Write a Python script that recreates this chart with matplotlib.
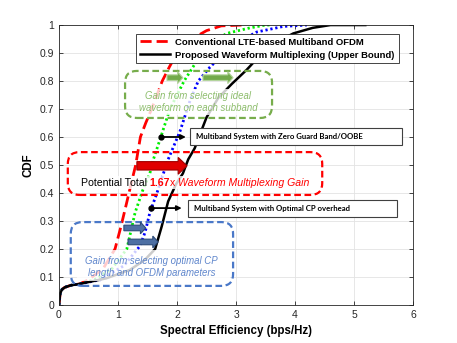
import matplotlib
matplotlib.use("Agg")

import matplotlib.pyplot as plt
import matplotlib.transforms as mtransforms
from matplotlib.patches import FancyBboxPatch, FancyArrow, Rectangle

plt.rcParams["font.family"] = ["Liberation Sans", "DejaVu Sans"]

# CDF curves (spectral efficiency, CDF)
conv_x = [0, 0.01, 0.02, 0.05, 0.1, 0.2, 0.35, 0.5, 0.75, 0.95, 1.05, 1.13, 1.22, 1.3, 1.38,
          1.47, 1.57, 1.66, 1.75, 1.87, 2.0, 2.25, 2.5, 2.75, 3.1]
conv_y = [0, 0.02, 0.04, 0.055, 0.063, 0.07, 0.075, 0.09, 0.13, 0.2, 0.28, 0.35, 0.43, 0.5, 0.6,
          0.65, 0.7, 0.75, 0.8, 0.85, 0.9, 0.95, 0.98, 0.997, 1.0]

ideal_x = [0, 0.01, 0.02, 0.05, 0.1, 0.2, 0.35, 0.6, 0.9, 1.15, 1.29, 1.42, 1.54, 1.6, 1.71,
           1.88, 2.12, 2.33, 2.55, 2.84, 3.24, 3.5, 3.6]
ideal_y = [0, 0.02, 0.04, 0.055, 0.063, 0.07, 0.075, 0.09, 0.13, 0.2, 0.33, 0.41, 0.47, 0.52, 0.59,
           0.7, 0.8, 0.87, 0.93, 0.97, 0.99, 1.0, 1.0]

cp_x = [0, 0.01, 0.02, 0.05, 0.1, 0.2, 0.35, 0.7, 1.1, 1.37, 1.46, 1.54, 1.66, 1.77, 1.85, 2.05,
        2.22, 2.36, 2.56, 2.95, 3.35, 3.8, 4.2]
cp_y = [0, 0.02, 0.04, 0.055, 0.063, 0.07, 0.075, 0.09, 0.14, 0.21, 0.26, 0.33, 0.4, 0.47, 0.52, 0.62,
        0.73, 0.8, 0.85, 0.93, 0.975, 0.995, 1.0]

prop_x = [0, 0.01, 0.02, 0.05, 0.1, 0.2, 0.35, 0.8, 1.2, 1.45, 1.63, 1.74, 1.85, 1.98, 2.1, 2.19,
          2.3, 2.39, 2.5, 2.7, 2.93, 3.18, 3.4, 3.7, 3.97, 4.3, 4.6, 5.19]
prop_y = [0, 0.02, 0.04, 0.055, 0.063, 0.07, 0.075, 0.095, 0.125, 0.16, 0.2, 0.28, 0.37, 0.43, 0.47,
          0.52, 0.56, 0.61, 0.67, 0.74, 0.79, 0.84, 0.89, 0.94, 0.97, 0.99, 1.0, 1.0]

legend_labels = ["Conventional LTE-based Multiband OFDM",
                 "Proposed Waveform Multiplexing (Upper Bound)"]
x_ticks = [0, 1, 2, 3, 4, 5, 6]
y_ticks = [0, 0.1, 0.2, 0.3, 0.4, 0.5, 0.6, 0.7, 0.8, 0.9, 1]

GREEN = "#77ad4c"
GREEN_TXT = "#8dbd6c"
BLUE = "#4a78c8"
BLUE_TXT = "#5f86cc"
ASPECT = 59.0 / 280.0   # px per x-unit / px per y-unit

fig = plt.figure(figsize=(4.57, 3.43), dpi=100)
ax = fig.add_axes([0.129, 0.111, 0.775, 0.816])

l_conv, = ax.plot(conv_x, conv_y, color="#ff0000", lw=2, dashes=(4, 1.8), zorder=2)
ax.plot(ideal_x, ideal_y, color="#00ee00", lw=2, ls=(0, (0.8, 1.0)), zorder=2)
ax.plot(cp_x, cp_y, color="#0000ff", lw=2, ls=(0, (0.8, 1.0)), zorder=2)
l_prop, = ax.plot(prop_x, prop_y, color="black", lw=1.8, zorder=2.1)

ax.set_xlim(0, 6)
ax.set_ylim(0, 1)
ax.set_xticks(x_ticks)
ax.set_yticks(y_ticks)
ax.set_yticklabels(["0" if v == 0 else ("1" if v == 1 else f"{v:.1f}") for v in y_ticks])
ax.grid(True, color="#e3e3e3", lw=0.6)
ax.set_axisbelow(True)
ax.tick_params(direction="in", length=3, width=0.6, labelsize=7.5, colors="#262626",
               top=True, right=True)
for s in ax.spines.values():
    s.set_color("#262626")
    s.set_linewidth(0.6)
ax.set_xlabel("Spectral Efficiency (bps/Hz)", fontsize=8.3, fontweight="bold", labelpad=4)
ax.set_ylabel("CDF", fontsize=8.3, fontweight="bold", labelpad=4)

# white veils behind the annotation text
for (x0, y0, w, h) in [(1.35, 0.68, 2.05, 0.09), (0.3, 0.085, 2.6, 0.11), (0.35, 0.415, 4.0, 0.045)]:
    ax.add_patch(Rectangle((x0, y0), w, h, facecolor="white", edgecolor="none",
                           alpha=0.8, zorder=3))


def dashed_box(x0, y0, x1, y1, color):
    p = FancyBboxPatch((x0, y0), x1 - x0, y1 - y0,
                       boxstyle="round,pad=0,rounding_size=0.2",
                       mutation_aspect=ASPECT, facecolor="none", edgecolor=color,
                       lw=1.6, ls=(0, (3, 1.6)), zorder=4)
    ax.add_patch(p)


dashed_box(1.12, 0.668, 3.61, 0.836, GREEN)
dashed_box(0.15, 0.393, 4.46, 0.546, "#ff0000")
dashed_box(0.2, 0.068, 2.95, 0.296, BLUE)


def block_arrow(x0, x1, y, body, head, head_len, fc, ec):
    ax.add_patch(FancyArrow(x0, y, x1 - x0, 0, width=body, head_width=head,
                            head_length=head_len, length_includes_head=True,
                            facecolor=fc, edgecolor=ec, lw=0.8, zorder=5))


block_arrow(1.83, 2.1, 0.812, 0.02, 0.042, 0.09, "#72aa4a", "#b3d49c")
block_arrow(2.44, 2.95, 0.812, 0.02, 0.042, 0.09, "#72aa4a", "#b3d49c")
block_arrow(1.32, 2.17, 0.497, 0.03, 0.06, 0.15, "#e00000", "#a00000")
block_arrow(1.1, 1.47, 0.275, 0.02, 0.042, 0.09, "#4d6fa3", "#2c4a78")
block_arrow(1.17, 1.68, 0.225, 0.02, 0.042, 0.09, "#4d6fa3", "#2c4a78")


def dot_arrow(x0, x1, y):
    ax.annotate("", xy=(x1, y), xytext=(x0, y),
                arrowprops=dict(arrowstyle="-|>", color="black", lw=1.3,
                                mutation_scale=7, shrinkA=0, shrinkB=0), zorder=5)
    ax.plot([x0], [y], "o", color="black", ms=3.5, zorder=5)


dot_arrow(1.73, 2.15, 0.60)
dot_arrow(1.56, 2.08, 0.346)


def label_box(x0, y0, x1, y1, text):
    ax.add_patch(Rectangle((x0, y0), x1 - x0, y1 - y0, facecolor="white",
                           edgecolor="#404040", lw=0.8, zorder=5))
    ax.text(x0 + 0.1, (y0 + y1) / 2, text, fontsize=5.6, fontweight="bold",
            family=["Lato", "DejaVu Sans"], va="center", ha="left", zorder=6)


label_box(2.22, 0.571, 5.81, 0.632, "Multiband System with Zero Guard Band/OOBE")
label_box(2.19, 0.314, 5.73, 0.375, "Multiband System with Optimal CP overhead")

ax.text(2.36, 0.725, "Gain from selecting ideal\nwaveform on each subband", color=GREEN_TXT,
        fontsize=6.9, style="italic", ha="center", va="center", linespacing=1.25, zorder=6)
ax.text(1.57, 0.135, "Gain from selecting optimal CP\nlength and OFDM parameters", color=BLUE_TXT,
        fontsize=6.9, style="italic", ha="center", va="center", linespacing=1.25, zorder=6)

# multi-coloured gain sentence
renderer = fig.canvas.get_renderer()
pieces = [("Potential Total ", dict(color="black")),
          ("1.67", dict(color="#ff0000", fontweight="bold")),
          ("x ", dict(color="#ff0000")),
          ("Waveform Multiplexing Gain", dict(color="#ff0000", style="italic"))]
trans = ax.transData
for s, props in pieces:
    t = ax.text(0.37, 0.436, s, transform=trans, fontsize=7.6, va="center", ha="left",
                zorder=6, **props)
    ext = t.get_window_extent(renderer)
    trans = mtransforms.offset_copy(t.get_transform(), fig=fig, x=ext.width, units="dots")

leg = ax.legend([l_conv, l_prop], legend_labels, loc="upper left",
                bbox_to_anchor=(0.218, 0.968), prop=dict(size=6.8, weight="bold"),
                frameon=True, fancybox=False, edgecolor="#262626", framealpha=1,
                handlelength=3.2, handletextpad=0.55, borderpad=0.4, labelspacing=0.4,
                borderaxespad=0)
leg.get_frame().set_linewidth(0.6)
leg.set_zorder(7)

fig.savefig("out.png", dpi=100)
